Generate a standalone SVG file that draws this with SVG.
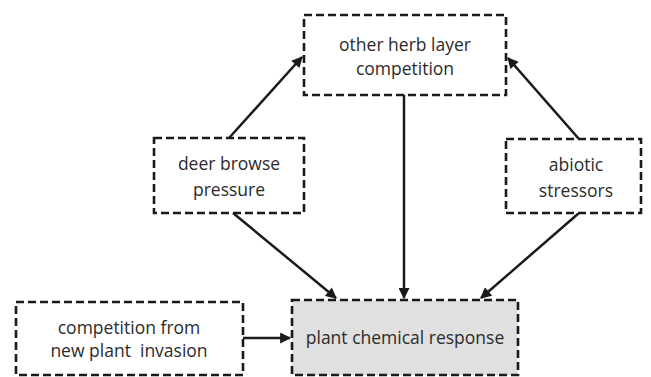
<svg xmlns="http://www.w3.org/2000/svg" width="651" height="377" viewBox="0 0 651 377">
<defs>
<marker id="ah" viewBox="0 0 10 10" refX="9" refY="5" markerWidth="5" markerHeight="4.4" orient="auto" markerUnits="strokeWidth">
<path d="M0,0 L10,5 L0,10 z" fill="#1a1a1a"/>
</marker>
</defs>
<style>
.box{fill:#fff;stroke:#1a1a1a;stroke-width:2.6;stroke-dasharray:8 4}
.grey{fill:#e0e0e0}
.t{font-family:"Open Sans","Liberation Sans",sans-serif;font-size:17.5px;fill:#2b2b2b;text-anchor:middle;white-space:pre}
.c{stroke:#1a1a1a;stroke-width:2.5;fill:none;marker-end:url(#ah)}
</style>
<rect width="651" height="377" fill="#fff"/>
<g id="connectors">
<line class="c" x1="229" y1="138" x2="302" y2="57"/>
<line class="c" x1="579" y1="139" x2="508" y2="58"/>
<line class="c" x1="404" y1="95" x2="404" y2="298"/>
<line class="c" x1="233" y1="213" x2="336" y2="298"/>
<line class="c" x1="579" y1="213" x2="481" y2="298"/>
<line class="c" x1="243" y1="338" x2="290" y2="338"/>
</g>
<g id="herb">
<rect class="box" x="304" y="15" width="202" height="80"/>
<text class="t" x="405" y="51">other herb layer</text>
<text class="t" x="405" y="75">competition</text>
</g>
<g id="deer">
<rect class="box" x="154" y="138" width="150" height="75"/>
<text class="t" x="229" y="170">deer browse</text>
<text class="t" x="229" y="196">pressure</text>
</g>
<g id="abiotic">
<rect class="box" x="506" y="139" width="135" height="74"/>
<text class="t" x="576" y="171">abiotic</text>
<text class="t" x="576" y="197">stressors</text>
</g>
<g id="invasion">
<rect class="box" x="16" y="302" width="227" height="73"/>
<text class="t" x="129" y="334">competition from</text>
<text class="t" x="129" y="357" xml:space="preserve">new plant  invasion</text>
</g>
<g id="response">
<rect class="box grey" x="292" y="300" width="226" height="75"/>
<text class="t" x="405" y="344">plant chemical response</text>
</g>
</svg>
